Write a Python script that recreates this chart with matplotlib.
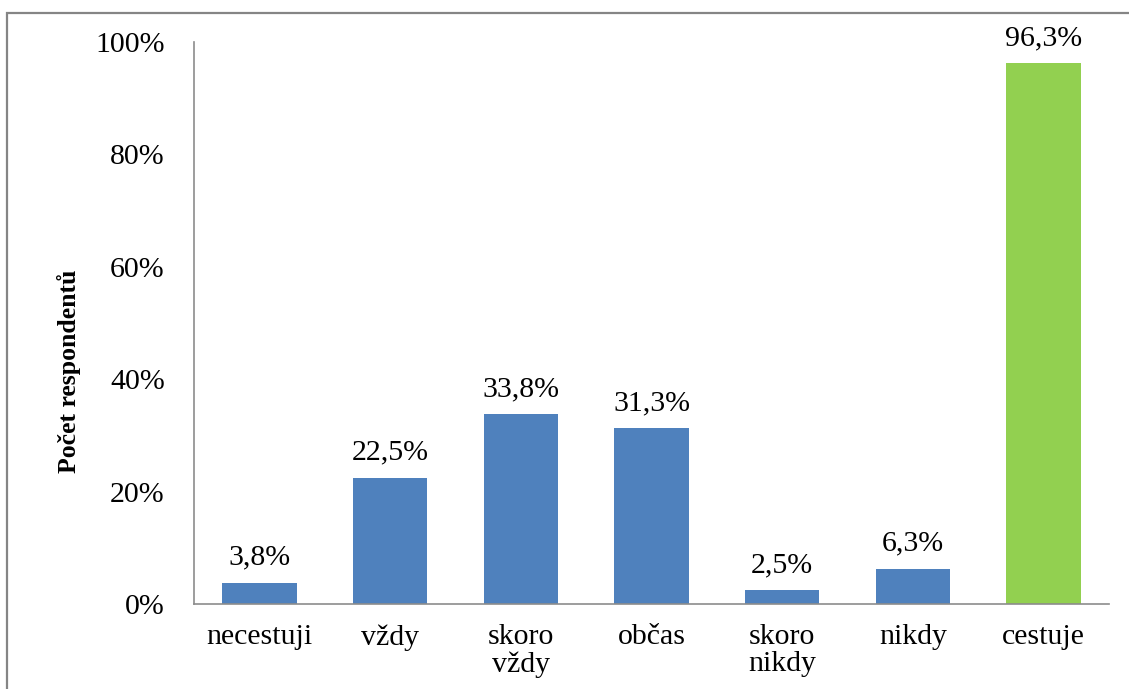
import matplotlib
matplotlib.use("Agg")
import matplotlib.pyplot as plt
from matplotlib.patches import Rectangle

categories = ["necestuji", "vždy", "skoro\nvždy", "občas", "skoro\nnikdy", "nikdy", "cestuje"]
values = [3.8, 22.5, 33.8, 31.3, 2.5, 6.3, 96.3]
bar_colors = ["#4F81BD"] * 6 + ["#92D050"]
y_ticks = [0, 20, 40, 60, 80, 100]
y_label = "Počet respondentů"

plt.rcParams["font.family"] = ["Liberation Serif", "DejaVu Serif"]

W, H = 1129, 689
fig = plt.figure(figsize=(W / 100, H / 100), dpi=100)
ax = fig.add_axes([194 / W, 1 - 604 / H, (1109 - 194) / W, (604 - 42) / H])

x = range(len(categories))
bars = ax.bar(x, values, width=0.57, color=bar_colors, zorder=2)

for xi, v in zip(x, values):
    ax.annotate(f"{v:.1f}%".replace(".", ","), (xi, v), xytext=(0, 8.5),
                textcoords="offset points", ha="center", va="bottom",
                fontsize=21.5, color="#000000")

ax.set_xlim(-0.5, len(categories) - 0.5)
ax.set_ylim(0, 100)
ax.set_yticks(y_ticks)
ax.set_yticklabels([f"{t}%" for t in y_ticks], fontsize=21.5)
ax.set_xticks(list(x))
ax.set_xticklabels(categories, fontsize=21.5, linespacing=1.05)
ax.tick_params(axis="both", length=0)
ax.tick_params(axis="y", pad=21)
ax.tick_params(axis="x", pad=14.5)

for side in ("top", "right"):
    ax.spines[side].set_visible(False)
for side in ("left", "bottom"):
    ax.spines[side].set_color("#8C8C8C")
    ax.spines[side].set_linewidth(1.2)

fig.text(69 / W, 1 - 371 / H, y_label, rotation=90, ha="center", va="center",
         fontsize=18.5, fontweight="bold")

# outer frame of the chart area
frame = Rectangle((7 / W, -0.1), 1.2, 1 - 13 / H + 0.1, transform=fig.transFigure,
                  fill=False, edgecolor="#858585", linewidth=1.6, clip_on=False)
fig.patches.append(frame)

fig.savefig("out.png", dpi=100)
